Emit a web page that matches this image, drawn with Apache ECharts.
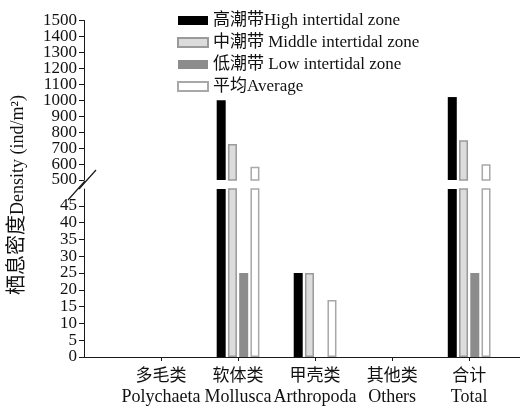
<!DOCTYPE html>
<html><head><meta charset="utf-8">
<script src="https://cdn.jsdelivr.net/npm/echarts@6/dist/echarts.min.js"></script>
</head><body style="margin:0;background:#fff">
<div id="c" style="width:520px;height:408px"></div>
<script>
const catCn = ['多毛类','软体类','甲壳类','其他类','合计'];
const catEn = ['Polychaeta','Mollusca','Arthropoda','Others','Total'];
const seriesNames = ['高潮带High intertidal zone','中潮带 Middle intertidal zone','低潮带 Low intertidal zone','平均Average'];
const high = [0, 1000, 25, 0, 1020];
const middle = [0, 725, 25, 0, 750];
const low = [0, 25, 0, 0, 25];
const average = [0, 583, 17, 0, 598];
const upperTicks = [500,600,700,800,900,1000,1100,1200,1300,1400,1500];
const lowerTicks = [0,5,10,15,20,25,30,35,40,45];

const FONT = "'Liberation Serif','Noto Sans CJK SC',serif";
const styles = [
  {color:'#000000', borderColor:'#000000', borderWidth:0},
  {color:'#dcdcdc', borderColor:'#9a9a9a', borderWidth:1.5},
  {color:'#8c8c8c', borderColor:'#8c8c8c', borderWidth:0},
  {color:'#ffffff', borderColor:'#a8a8a8', borderWidth:1.5}
];
const allVals = [high, middle, low, average];

const series = [];
allVals.forEach((vals, i) => {
  series.push({
    name: seriesNames[i], type:'bar', xAxisIndex:0, yAxisIndex:0,
    barWidth:9, barGap:'25%', clip:true, itemStyle: styles[i],
    data: vals.map((v,k)=>[k+1, v]).filter(d => d[1] > 500)
  });
  series.push({
    name: seriesNames[i], type:'bar', xAxisIndex:1, yAxisIndex:1,
    barWidth:9, barGap:'25%', clip:true, itemStyle: styles[i],
    data: vals.map((v,k)=>[k+1, v]).filter(d => d[1] > 0)
  });
});

const chart = echarts.init(document.getElementById('c'), null, {renderer:'canvas'});
const axisLineStyle = {color:'#1a1a1a', width:1};
const yLabel = {margin:7, showMinLabel:true, showMaxLabel:true, hideOverlap:false,
  fontFamily:FONT, fontSize:17, color:'#111', formatter: v => String(v)};
const upperEven = upperTicks.filter((v,i) => i % 2 === 0);
const upperOdd = upperTicks.filter((v,i) => i % 2 === 1);
chart.setOption({
  animation:false,
  backgroundColor:'#fff',
  textStyle:{fontFamily:FONT},
  legend:{
    orient:'vertical', left:172, top:7, itemWidth:30, itemHeight:9, itemGap:5,
    icon:'rect',
    textStyle:{fontFamily:FONT, fontSize:17, color:'#111', lineHeight:17},
    data: seriesNames
  },
  grid:[
    {left:84, right:0, top:20.5, height:159.5},
    {left:84, right:0, top:189, bottom:51}
  ],
  xAxis:[
    {type:'value', gridIndex:0, min:0, max:5.66, interval:1, show:false},
    {type:'value', gridIndex:1, min:0, max:5.66, interval:1,
     axisLine:{show:true, onZero:false, lineStyle:axisLineStyle},
     axisTick:{show:true, inside:false, length:4, lineStyle:axisLineStyle, customValues:[1,2,3,4,5]},
     splitLine:{show:false},
     axisLabel:{
       customValues:[1,2,3,4,5], margin:9, hideOverlap:false,
       formatter: v => '{cn|' + catCn[v-1] + '}\n{en|' + catEn[v-1] + '}',
       rich:{
         cn:{fontFamily:FONT, fontSize:17, lineHeight:21, color:'#111'},
         en:{fontFamily:FONT, fontSize:18, lineHeight:20, color:'#111'}
       }
     }}
  ],
  yAxis:[
    {type:'value', gridIndex:0, min:500, max:1500, interval:100,
     axisLine:{show:true, onZero:false, lineStyle:axisLineStyle},
     axisTick:{show:true, length:5, lineStyle:axisLineStyle, customValues:upperTicks},
     splitLine:{show:false},
     axisLabel:Object.assign({}, yLabel, {customValues:upperEven})},
    {type:'value', gridIndex:1, min:0, max:50, interval:5,
     axisLine:{show:true, onZero:false, lineStyle:axisLineStyle},
     axisTick:{show:true, length:5, lineStyle:axisLineStyle, customValues:lowerTicks},
     splitLine:{show:false},
     axisLabel:Object.assign({}, yLabel, {customValues:lowerTicks})},
    {type:'value', gridIndex:0, min:500, max:1500, interval:100, position:'left', offset:0,
     axisLine:{show:false}, axisTick:{show:false}, splitLine:{show:false},
     axisLabel:Object.assign({}, yLabel, {customValues:upperOdd})}
  ],
  series: series
});

const p0 = chart.convertToPixel({gridIndex:0}, [0, 500]);
const bx = p0[0], by = p0[1];
chart.setOption({
  graphic:[
    {type:'line', shape:{x1:bx-5, y1:by+9, x2:bx+12, y2:by-10}, style:{stroke:'#1a1a1a', lineWidth:1.2}},
    {type:'line', shape:{x1:bx-16, y1:by+20, x2:bx+1, y2:by+1}, style:{stroke:'#1a1a1a', lineWidth:1.2}},
    {type:'text', rotation:Math.PI/2, x:18, y:195,
     style:{
       text:'{cn|栖息密度}{en|Density (ind/m²)}',
       rich:{cn:{fontFamily:FONT, fontSize:20, fill:'#111'}, en:{fontFamily:FONT, fontSize:18, fill:'#111'}},
       align:'center', verticalAlign:'middle'
     }}
  ]
});
</script>
</body></html>
